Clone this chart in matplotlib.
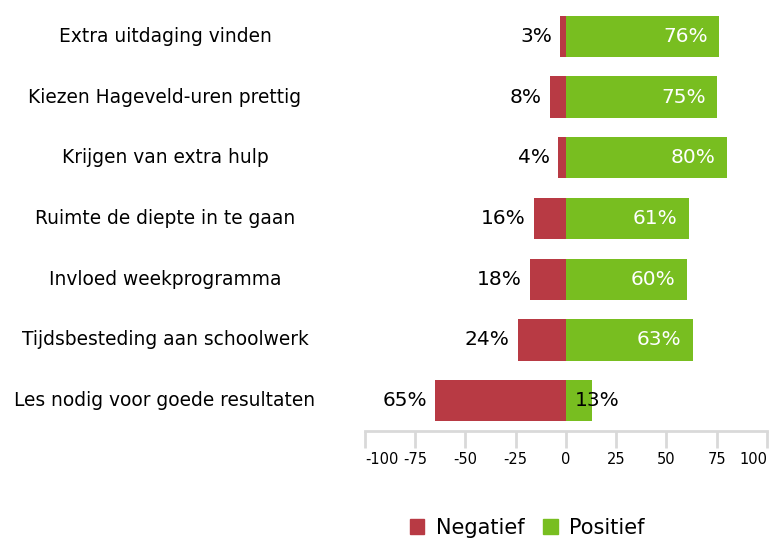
import numpy as np
import matplotlib.pyplot as plt
import matplotlib.transforms as mtransforms
from matplotlib.patches import Patch

categories = ["Extra uitdaging vinden", "Kiezen Hageveld-uren prettig", "Krijgen van extra hulp",
              "Ruimte de diepte in te gaan", "Invloed weekprogramma",
              "Tijdsbesteding aan schoolwerk", "Les nodig voor goede resultaten"]
negatief = [3, 8, 4, 16, 18, 24, 65]
positief = [76, 75, 80, 61, 60, 63, 13]
ticks = [-100, -75, -50, -25, 0, 25, 50, 75, 100]

red = "#B83A44"
green = "#78BE20"

fig = plt.figure(figsize=(7.71, 5.42), dpi=100)
ax = fig.add_axes([0.4734, 0.2048, 0.5214, 0.7842])

y = np.arange(len(categories))
ax.barh(y, [-v for v in negatief], height=0.68, color=red)
ax.barh(y, positief, height=0.68, color=green)
ax.set_ylim(len(categories) - 0.5, -0.5)
ax.set_xlim(-100, 100)

for i, (n, p) in enumerate(zip(negatief, positief)):
    ax.text(-n - 4, i, f"{n}%", ha="right", va="center", fontsize=14.5, color="black")
    if p > 20:
        ax.text(p - 5.5, i, f"{p}%", ha="right", va="center", fontsize=14.5, color="white")
    else:
        ax.text(4.5, i, f"{p}%", ha="left", va="center", fontsize=14.5, color="black")

trans = mtransforms.blended_transform_factory(fig.transFigure, ax.transData)
for i, c in enumerate(categories):
    ax.text(165 / 771, i, c, transform=trans, ha="center", va="center", fontsize=13.4)

for s in ["top", "right", "left"]:
    ax.spines[s].set_visible(False)
ax.spines["bottom"].set_color("#d9d9d9")
ax.spines["bottom"].set_linewidth(2)
ax.set_yticks([])
ax.set_xticks(ticks)
ax.set_xticklabels([str(t) for t in ticks], fontsize=10.5)
ax.tick_params(axis="x", length=12, width=2, color="#d9d9d9", pad=3)
labels = ax.get_xticklabels()
labels[0].set_horizontalalignment("left")
labels[-1].set_horizontalalignment("right")

handles = [Patch(color=red, label="Negatief"), Patch(color=green, label="Positief")]
fig.legend(handles=handles, loc="center", bbox_to_anchor=(527 / 771, 1 - 528 / 542), ncol=2,
           frameon=False, fontsize=15, handlelength=0.7, handleheight=0.7, handletextpad=0.55,
           columnspacing=0.9)

fig.savefig("out.png", dpi=100)
